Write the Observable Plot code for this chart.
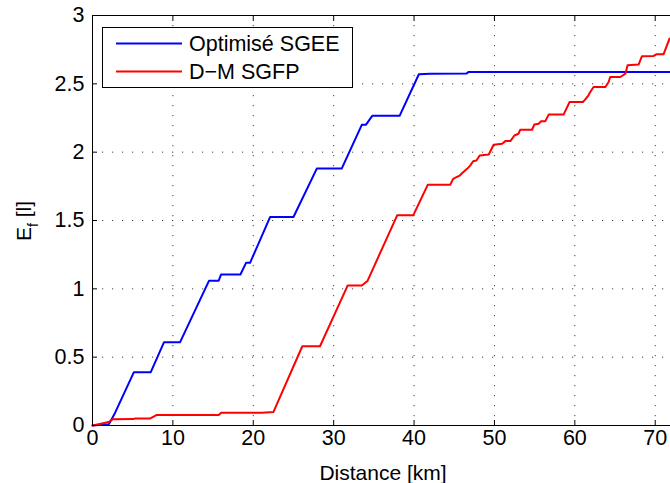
<!DOCTYPE html>
<html><head><meta charset="utf-8">
<script src="https://cdn.jsdelivr.net/npm/d3@7"></script>
<script src="https://cdn.jsdelivr.net/npm/@observablehq/plot@0.6"></script>
<style>body{margin:0;background:#fff} svg{display:block}</style>
</head><body><div id="chart"></div>
<script>
const seriesNames = ["Optimisé SGEE", "D\u2212M SGFP"];
const xTicks = [0, 10, 20, 30, 40, 50, 60, 70];
const yTicks = [0, 0.5, 1, 1.5, 2, 2.5, 3];
const xLabel = "Distance [km]";

const blueX = [0, 2.05, 2.7, 5.15, 7.25, 8.9, 10.9, 14.5, 15.7, 16.0, 18.4, 19.1, 19.6, 22.1, 25.0, 27.9, 31.0, 33.5, 34.0, 34.8, 38.2, 40.6, 42.0, 46.5, 46.8, 71.9];
const blueY = [0, 0.01, 0.08, 0.39, 0.39, 0.61, 0.61, 1.06, 1.06, 1.105, 1.105, 1.19, 1.19, 1.526, 1.526, 1.88, 1.88, 2.20, 2.20, 2.266, 2.266, 2.57, 2.573, 2.575, 2.587, 2.587];

const redX = [0, 1.2, 2.0, 2.5, 5.1, 5.3, 7.2, 8.0, 15.7, 16.0, 21.1, 22.5, 26.1, 28.3, 31.75, 33.5, 34.2, 37.9, 39.9, 41.7, 44.5, 44.86, 45.27, 45.68, 46.1, 46.6, 47.0, 47.35, 47.76, 48.17, 49.29, 49.9, 50.95, 51.36, 51.98, 52.48, 53.0, 53.2, 54.68, 54.97, 55.5, 55.8, 56.33, 56.75, 58.6, 59.35, 61.0, 61.3, 61.7, 61.84, 62.33, 63.8, 64.2, 64.4, 65.65, 66.3, 66.56, 67.93, 68.35, 69.8, 70.13, 71.03, 71.78];
const redY = [0, 0.015, 0.025, 0.045, 0.047, 0.052, 0.052, 0.077, 0.077, 0.093, 0.093, 0.098, 0.58, 0.58, 1.025, 1.025, 1.057, 1.538, 1.538, 1.761, 1.761, 1.805, 1.817, 1.829, 1.853, 1.878, 1.903, 1.934, 1.939, 1.976, 1.983, 2.054, 2.062, 2.081, 2.081, 2.122, 2.135, 2.164, 2.164, 2.203, 2.208, 2.227, 2.227, 2.275, 2.275, 2.367, 2.367, 2.386, 2.416, 2.433, 2.477, 2.477, 2.513, 2.55, 2.55, 2.575, 2.636, 2.641, 2.702, 2.704, 2.716, 2.716, 2.831];

const blueRows = blueX.map((x, i) => ({series: seriesNames[0], x, y: blueY[i]}));
const redRows = redX.map((x, i) => ({series: seriesNames[1], x, y: redY[i]}));
const colors = ["#0000ff", "#ff0000"];

const FONT = "'Liberation Sans', Arial, Helvetica, sans-serif";
const gridStyle = {stroke: "#000", strokeOpacity: 0.75, strokeDasharray: "1.2,8.8", strokeWidth: 1};

const plot = Plot.plot({
  width: 670, height: 483,
  marginLeft: 92, marginRight: 0, marginTop: 15, marginBottom: 58,
  style: {fontFamily: FONT, fontSize: "21.5px", color: "#000", background: "#fff"},
  x: {domain: [0, 71.9], label: null},
  y: {domain: [0, 3], label: null},
  marks: [
    Plot.gridX(xTicks, gridStyle),
    Plot.gridY(yTicks, gridStyle),
    Plot.line(blueRows, {x: "x", y: "y", stroke: colors[0], strokeWidth: 2}),
    Plot.line(redRows, {x: "x", y: "y", stroke: colors[1], strokeWidth: 2}),
    Plot.ruleX([0], {stroke: "#000"}),
    Plot.ruleY([0], {stroke: "#000"}),
    Plot.ruleY([3], {stroke: "#000"}),
    Plot.axisX(xTicks, {anchor: "bottom", tickSize: -5, tickPadding: 9, tickFormat: d => String(d), label: null, fill: "#000"}),
    Plot.axisX(xTicks, {anchor: "top", tickSize: -5, tickFormat: () => "", label: null}),
    Plot.axisY(yTicks, {anchor: "left", tickSize: -5, tickPadding: 13, tickFormat: d => String(d), label: null, fill: "#000"})
  ]
});
document.getElementById("chart").appendChild(plot);

const svg = d3.select(plot);
// axis titles
svg.append("text").attr("x", 383).attr("y", 480).attr("text-anchor", "middle")
  .attr("font-family", FONT).attr("font-size", 21).attr("fill", "#000").text(xLabel);
const yl = svg.append("text").attr("transform", "translate(31,221) rotate(-90)")
  .attr("text-anchor", "middle").attr("font-family", FONT).attr("font-size", 21).attr("fill", "#000");
yl.append("tspan").text("E");
yl.append("tspan").attr("font-size", 14).attr("dy", 7).text("f");
yl.append("tspan").attr("dy", -7).text(" [l]");

// legend
const lg = svg.append("g");
lg.append("rect").attr("x", 102.5).attr("y", 27.5).attr("width", 250).attr("height", 60)
  .attr("fill", "#fff").attr("stroke", "#000").attr("stroke-width", 1);
const rowsY = [43.5, 71.5];
seriesNames.forEach((name, i) => {
  lg.append("line").attr("x1", 116).attr("x2", 182).attr("y1", rowsY[i]).attr("y2", rowsY[i])
    .attr("stroke", colors[i]).attr("stroke-width", 2);
  lg.append("text").attr("x", 189).attr("y", rowsY[i] + 7.5).attr("text-anchor", "start")
    .attr("font-family", FONT).attr("font-size", 21.5).attr("fill", "#000").text(name);
});
</script>
</body></html>
